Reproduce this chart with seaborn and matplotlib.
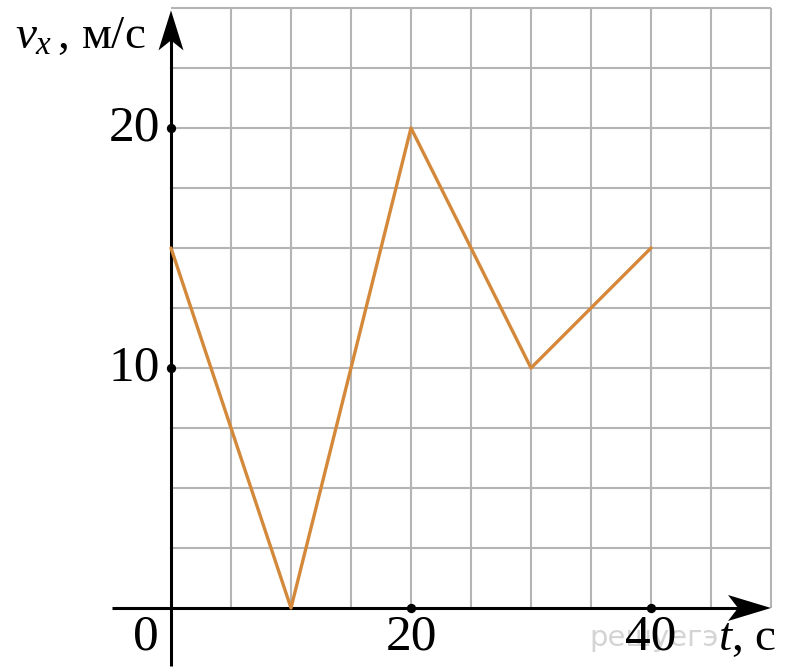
import numpy as np
import pandas as pd
import matplotlib
matplotlib.use("Agg")
import matplotlib.pyplot as plt
import seaborn as sns
from matplotlib.patches import Polygon

# Velocity-time data
t_values = [0, 10, 20, 30, 40]
v_values = [15, 0, 20, 10, 15]

# Axis ticks with dots and labels
y_ticks = [10, 20]
x_ticks = [20, 40]
y_tick_labels = ["10", "20"]
x_tick_labels = ["20", "40"]

# Grid extents
t_max = 50
v_max = 25
t_step = 5
v_step = 2.5

sns.set_theme(style="white")
plt.rcParams["font.family"] = ["Liberation Serif", "DejaVu Serif"]
plt.rcParams["mathtext.fontset"] = "custom"
plt.rcParams["mathtext.it"] = "Liberation Serif:italic"
plt.rcParams["mathtext.rm"] = "Liberation Serif"

fig = plt.figure(figsize=(7.86, 6.68), dpi=100)
ax = fig.add_axes([0, 0, 1, 1])
ax.set_xlim(-14.25, 51.25)
ax.set_ylim(-2.5, 25.333)
ax.axis("off")

grid_color = "#b4b4b4"
grid_lw = 1.5
ax.vlines(np.arange(t_step, t_max + 0.1, t_step), 0, v_max, color=grid_color, lw=grid_lw, zorder=1)
ax.hlines(np.arange(v_step, v_max + 0.1, v_step), 0, t_max, color=grid_color, lw=grid_lw, zorder=1)

# Axes lines with arrowheads
ax.plot([-4.9, 49.0], [0, 0], color="black", lw=2.2, zorder=3, solid_capstyle="butt")
ax.plot([0, 0], [-2.4, 24.0], color="black", lw=2.2, zorder=3, solid_capstyle="butt")

px_t = 1 / 12.0  # data units per pixel, t axis
px_v = 1 / 24.0  # data units per pixel, v axis
x_tip = 50.0
ax.add_patch(Polygon([(x_tip, 0), (x_tip - 43 * px_t, 13 * px_v),
                      (x_tip - 33 * px_t, 0), (x_tip - 43 * px_t, -13 * px_v)],
                     closed=True, color="black", zorder=4, lw=0))
y_tip = 24.9
ax.add_patch(Polygon([(0, y_tip), (12.5 * px_t, y_tip - 40 * px_v),
                      (0, y_tip - 30 * px_v), (-12.5 * px_t, y_tip - 40 * px_v)],
                     closed=True, color="black", zorder=4, lw=0))

# Data line
df = pd.DataFrame({"t": t_values, "v": v_values})
sns.lineplot(data=df, x="t", y="v", ax=ax, color="#d4883a", lw=2.4,
             sort=False, zorder=5)
ax.set_xlabel("")
ax.set_ylabel("")

# Tick dots
ax.scatter([0] * len(y_ticks), y_ticks, s=45, color="black", zorder=6, lw=0)
ax.scatter(x_ticks, [0] * len(x_ticks), s=45, color="black", zorder=6, lw=0)

fs = 37
for v, lab in zip(y_ticks, y_tick_labels):
    ax.text(-0.9, v, lab, ha="right", va="center", fontsize=fs, color="black")

# Watermark
ax.text(34.9, -1.25, "решуегэ", ha="left", va="center", fontsize=21,
        color="#d4d4d4", family=["DejaVu Sans"], zorder=2)

for t, lab in zip(x_ticks, x_tick_labels):
    ax.text(t, -1.2, lab, ha="center", va="center", fontsize=fs, color="black", zorder=7)
ax.text(-2.1, -1.2, "0", ha="center", va="center", fontsize=fs, color="black")

ax.text(45.6, -1.3, r"$t$, с", ha="left", va="center", fontsize=34, color="black")
ax.text(-13.0, 23.8, r"$v_x\,$, м/с", ha="left", va="center", fontsize=34, color="black")

fig.savefig("out.png", dpi=100)
